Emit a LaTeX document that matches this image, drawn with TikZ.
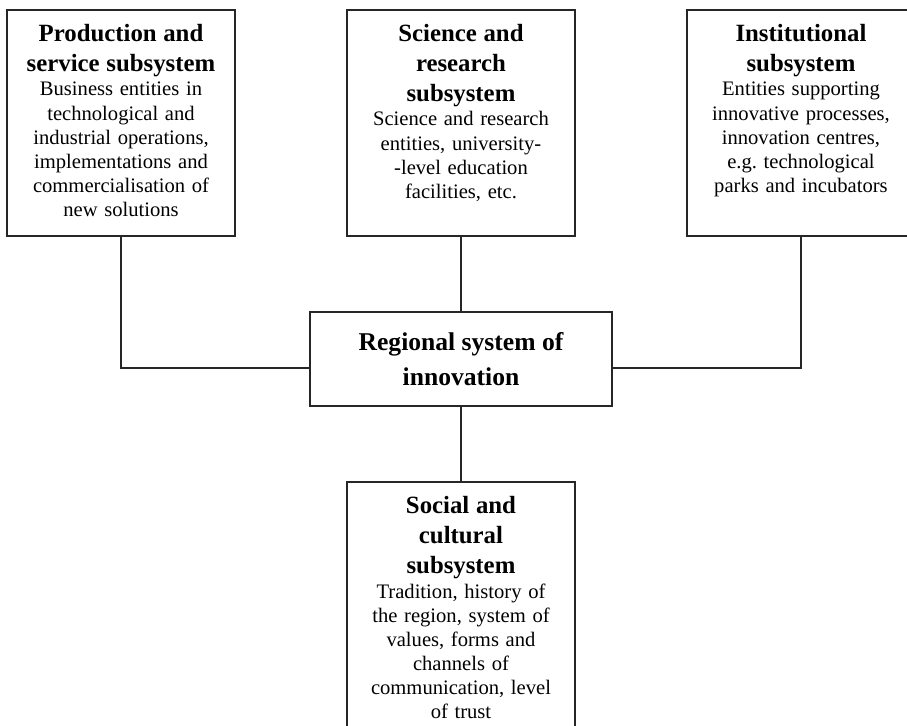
\documentclass[tikz,border=0pt]{standalone}
\usepackage{fontspec}
\setmainfont{Liberation Serif}
\usetikzlibrary{positioning}

\newcommand{\ttlfont}{\fontsize{12.4}{15}\selectfont\bfseries}
\newcommand{\bodyfont}{\fontsize{10.3}{12.1}\selectfont}

\begin{document}
\frenchspacing
\begin{tikzpicture}[x=0.5pt, y=-0.5pt,
    sub/.style={draw=black!85, line width=0.8pt, minimum width=114pt, minimum height=113pt, inner sep=0pt},
    socsub/.style={sub, minimum height=130pt},
    hub/.style={draw=black!85, line width=0.8pt, minimum width=151pt, minimum height=47pt, inner sep=0pt,
        align=center, font=\fontsize{12.8}{17.5}\selectfont\bfseries},
    txt/.style={align=center, text width=112pt, inner sep=0pt},
    conn/.style={draw=black!85, line width=0.8pt}
]
    \clip (0,0) rectangle (907,726);

    % the boxes
    \node[sub] (prodbox) at (121,123) {};
    \node[sub] (scibox) at (461,123) {};
    \node[sub] (instbox) at (801,123) {};
    \node[hub] (hub) at (461,359) {Regional system of\\ innovation};
    \node[socsub] (socbox) at (461,612) {};

    % their texts
    \node[txt, below=7.5pt of prodbox.north] (prodtxt) {%
        {\ttlfont Production and\\ service subsystem\par}
        {\bodyfont Business entities in\\ technological and\\ industrial operations,\\
        implementations and\\ commercialisation of\\ new solutions\par}};
    \node[txt, below=7.5pt of scibox.north] (scitxt) {%
        {\ttlfont Science and\\ research\\ subsystem\par}
        {\bodyfont Science and research\\ entities, university-\\ -level education\\
        facilities, etc.\par}};
    \node[txt, below=7.5pt of instbox.north] (insttxt) {%
        {\ttlfont Institutional\\ subsystem\par}
        {\bodyfont Entities supporting\\ innovative processes,\\ innovation centres,\\
        e.g. technological\\ parks and incubators\par}};
    \node[txt, below=7.5pt of socbox.north] (soctxt) {%
        {\ttlfont Social and\\ cultural\\ subsystem\par}
        {\bodyfont Tradition, history of\\ the region, system of\\ values, forms and\\
        channels of\\ communication, level\\ of trust\par}};

    \coordinate (hubw) at ([yshift=-4.5pt]hub.west);
    \coordinate (hube) at ([yshift=-4.5pt]hub.east);

    \draw[conn] (prodbox.south) |- (hubw);
    \draw[conn] (instbox.south) |- (hube);
    \draw[conn] (scibox.south) -- (hub.north);
    \draw[conn] (hub.south) -- (socbox.north);
\end{tikzpicture}
\end{document}
